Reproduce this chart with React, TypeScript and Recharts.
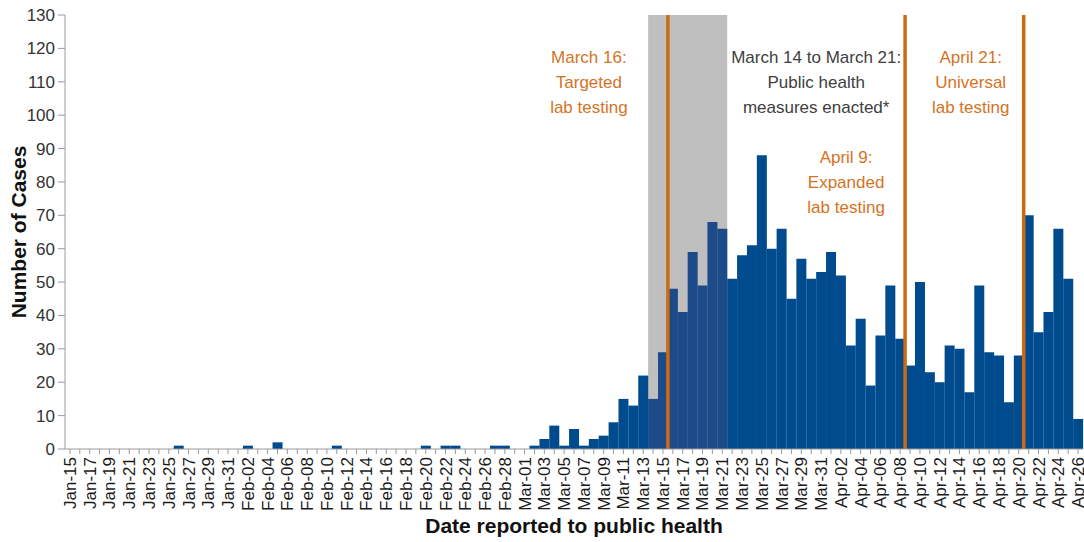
import React from "react";
import {
  BarChart,
  Bar,
  XAxis,
  YAxis,
  Cell,
  Label,
  ReferenceArea,
  ReferenceLine,
} from "recharts";

// daily case counts by date reported (2020)
const janCases = [0, 0, 0, 0, 0, 0, 0, 0, 0, 0, 0, 1, 0, 0, 0, 0, 0]; // Jan 15-31
const febCases = [
  0, 1, 0, 0, 2, 0, 0, 0, 0, 0, 1, 0, 0, 0, 0, 0, 0, 0, 0, 1, 0, 1, 1, 0, 0, 0, 1, 1, 0,
]; // Feb 1-29
const marCases = [
  0, 1, 3, 7, 1, 6, 1, 3, 4, 8, 15, 13, 22, 15, 29, 48, 41, 59, 49, 68, 66, 51, 58, 61, 88,
  60, 66, 45, 57, 51, 53,
]; // Mar 1-31
const aprCases = [
  59, 52, 31, 39, 19, 34, 49, 33, 25, 50, 23, 20, 31, 30, 17, 49, 29, 28, 14, 28, 70, 35, 41,
  66, 51, 9,
]; // Apr 1-26

const months: [string, number, number[]][] = [
  ["Jan", 15, janCases],
  ["Feb", 1, febCases],
  ["Mar", 1, marCases],
  ["Apr", 1, aprCases],
];

const yTicks = [0, 10, 20, 30, 40, 50, 60, 70, 80, 90, 100, 110, 120, 130];

const shadeStart = "Mar-14";
const shadeEnd = "Mar-21";
const testingDates = ["Mar-16", "Apr-09", "Apr-21"];

const shadeText = ["March 14 to March 21:", "Public health", "measures enacted*"];
const testingText = [
  ["March 16:", "Targeted", "lab testing"],
  ["April 9:", "Expanded", "lab testing"],
  ["April 21:", "Universal", "lab testing"],
];

const rows = months.flatMap(([m, first, values]) =>
  values.map((v, i) => ({
    date: `${m}-${String(first + i).padStart(2, "0")}`,
    cases: v,
  }))
);

const FONT = "'Liberation Sans', Arial, Helvetica, sans-serif";
const ORANGE = "#cc6a14";
const ORANGE_TEXT = "#d4731f";
const BLUE = "#004b8d";
const BLUE_SHADED = "#1d4a89";

const shadeFrom = rows.findIndex((r) => r.date === shadeStart);
const shadeTo = rows.findIndex((r) => r.date === shadeEnd);

// label placement for each testing line: [dx from line, first baseline]
const testingPlacement: [number, number][] = [
  [-79, 63],
  [-59, 163],
  [-53, 63],
];

const XTick = (props: any) => {
  const { x, y, payload } = props;
  if (payload.index % 2 !== 0) return null;
  return (
    <text
      transform={`translate(${x + 6},${y + 1}) rotate(-90)`}
      textAnchor="end"
      fontSize={17}
      fontFamily={FONT}
      fill="#1a1a1a"
    >
      {payload.value}
    </text>
  );
};

const multiLine = (
  lines: string[],
  cx: number,
  y0: number,
  fill: string
) => (
  <text textAnchor="middle" fontSize={17} fontFamily={FONT} fill={fill}>
    {lines.map((l, i) => (
      <tspan key={i} x={cx} y={y0 + i * 25}>
        {l}
      </tspan>
    ))}
  </text>
);

export default function App() {
  return (
    <div
      style={{
        position: "absolute",
        left: 0,
        top: 0,
        width: 1084,
        height: 542,
        background: "#fff",
      }}
    >
      <BarChart
        width={1084}
        height={542}
        data={rows}
        margin={{ top: 15, right: 1, bottom: 0, left: 0 }}
        barCategoryGap={0}
        barGap={0}
      >
        <ReferenceArea
          x1={shadeStart}
          x2={shadeEnd}
          y1={0}
          y2={130}
          fill="#bfbfbf"
          fillOpacity={1}
          stroke="none"
          label={{
            content: (p: any) => {
              const vb = p.viewBox || { x: 647, width: 80 };
              return multiLine(shadeText, vb.x + vb.width + 89, 63, "#404040");
            },
          }}
        />
        <XAxis
          dataKey="date"
          interval={0}
          height={93}
          tick={<XTick />}
          tickSize={5}
          tickLine={{ stroke: "#9a9a9a" }}
          axisLine={{ stroke: "#9a9a9a" }}
        >
          <Label
            content={() => (
              <text
                x={574}
                y={533}
                textAnchor="middle"
                fontSize={21}
                fontWeight="bold"
                fontFamily={FONT}
                fill="#111"
              >
                Date reported to public health
              </text>
            )}
          />
        </XAxis>
        <YAxis
          type="number"
          domain={[0, 130]}
          ticks={yTicks}
          interval={0}
          width={65}
          tickSize={7}
          tickMargin={3}
          tick={{ fontSize: 17, fill: "#333", fontFamily: FONT }}
          tickLine={{ stroke: "#9a9a9a" }}
          axisLine={{ stroke: "#9a9a9a" }}
        >
          <Label
            content={() => (
              <text
                transform="translate(26,232) rotate(-90)"
                textAnchor="middle"
                fontSize={21}
                fontWeight="bold"
                fontFamily={FONT}
                fill="#111"
              >
                Number of Cases
              </text>
            )}
          />
        </YAxis>
        <Bar dataKey="cases" isAnimationActive={false}>
          {rows.map((r, i) => (
            <Cell
              key={r.date}
              fill={i >= shadeFrom && i <= shadeTo ? BLUE_SHADED : BLUE}
            />
          ))}
        </Bar>
        {testingDates.map((d, k) => (
          <ReferenceLine
            key={d}
            x={d}
            position="start"
            stroke={ORANGE}
            strokeWidth={3.5}
            label={{
              content: (p: any) => {
                const vb = p.viewBox || { x: 0 };
                const [dx, y0] = testingPlacement[k];
                return multiLine(testingText[k], vb.x + dx, y0, ORANGE_TEXT);
              },
            }}
          />
        ))}
      </BarChart>
    </div>
  );
}
